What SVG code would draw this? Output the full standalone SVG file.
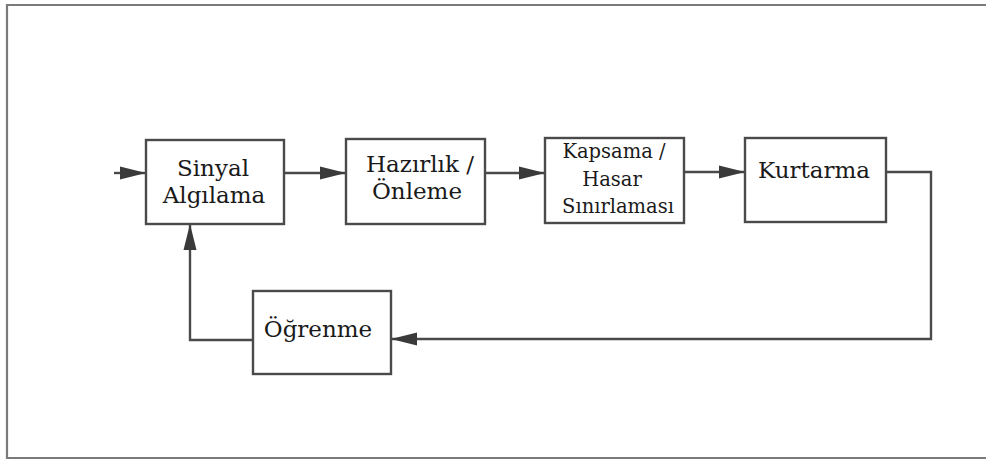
<svg xmlns="http://www.w3.org/2000/svg" width="986" height="461" viewBox="0 0 986 461">
  <style>
    .frame { fill: none; stroke: #7a7a7a; stroke-width: 2.2; }
    .box { fill: #ffffff; stroke: #4a4a4a; stroke-width: 2.4; }
    .wire { fill: none; stroke: #4a4a4a; stroke-width: 2.4; }
    .lbl { font-family: "DejaVu Serif", "Liberation Serif", serif; fill: #1a1a1a; text-anchor: middle; }
    .big { font-size: 23px; }
    .small { font-size: 19.5px; }
  </style>
  <defs>
    <marker id="arrow" markerUnits="userSpaceOnUse" markerWidth="26" markerHeight="14" refX="25" refY="7" orient="auto">
      <path d="M0,0.5 L26,7 L0,13.5 Z" fill="#3a3a3a"/>
    </marker>
  </defs>

  <rect width="986" height="461" fill="#ffffff"/>
  <!-- page frame: top, left and bottom edges -->
  <path class="frame" d="M986,5 L7,5 L7,458 L986,458"/>

  <g id="connectors">
    <line class="wire" x1="114" y1="173" x2="145" y2="173" marker-end="url(#arrow)"/>
    <line class="wire" x1="284" y1="173" x2="345" y2="173" marker-end="url(#arrow)"/>
    <line class="wire" x1="485" y1="173" x2="544" y2="173" marker-end="url(#arrow)"/>
    <line class="wire" x1="684" y1="172" x2="744" y2="172" marker-end="url(#arrow)"/>
    <polyline class="wire" points="886,172 931,172 931,339 392,339" marker-end="url(#arrow)"/>
    <polyline class="wire" points="253,340 190,340 190,225" marker-end="url(#arrow)"/>
  </g>

  <g id="sinyal">
    <rect class="box" x="146" y="140" width="138" height="84"/>
    <text class="lbl big" x="213" y="176">Sinyal</text>
    <text class="lbl big" x="214" y="203">Algılama</text>
  </g>

  <g id="hazirlik">
    <rect class="box" x="346" y="139" width="139" height="85"/>
    <text class="lbl big" x="420" y="172">Hazırlık /</text>
    <text class="lbl big" x="417" y="199">Önleme</text>
  </g>

  <g id="kapsama">
    <rect class="box" x="545" y="138" width="139" height="85"/>
    <text class="lbl small" x="614" y="158">Kapsama /</text>
    <text class="lbl small" x="612" y="186">Hasar</text>
    <text class="lbl small" x="618" y="213">Sınırlaması</text>
  </g>

  <g id="kurtarma">
    <rect class="box" x="745" y="138" width="141" height="84"/>
    <text class="lbl big" x="814" y="178">Kurtarma</text>
  </g>

  <g id="ogrenme">
    <rect class="box" x="253" y="291" width="138" height="83"/>
    <text class="lbl big" x="318" y="337">Öğrenme</text>
  </g>
</svg>
